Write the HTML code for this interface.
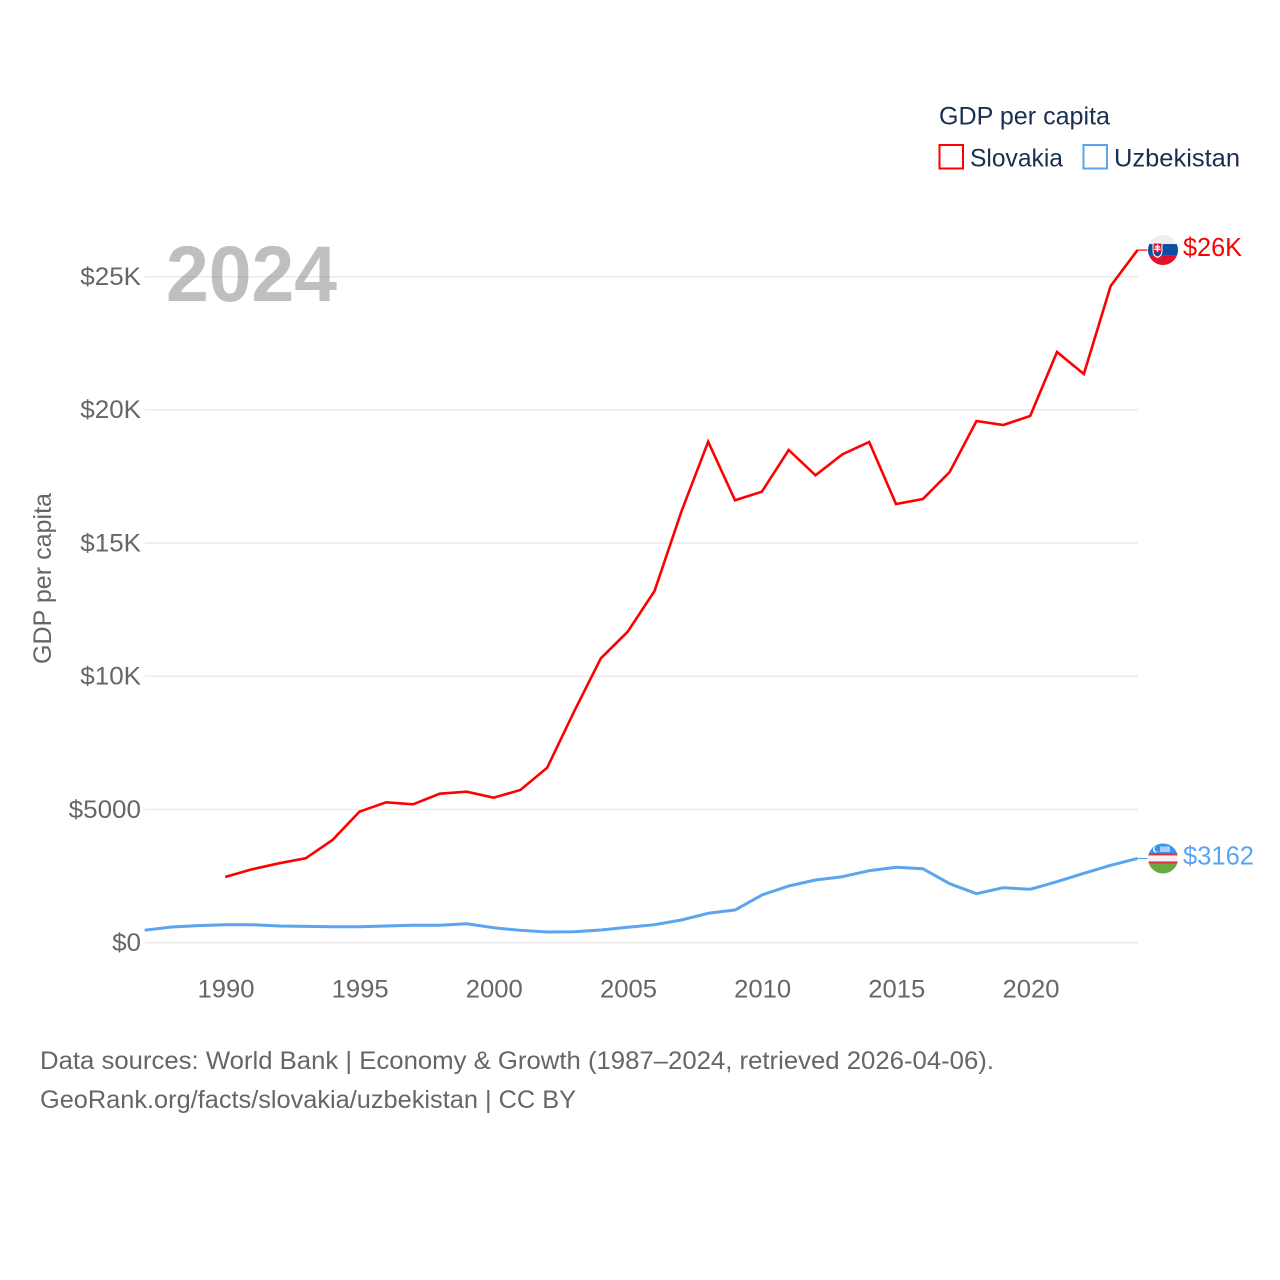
<!DOCTYPE html>
<html lang="en">
<head>
<meta charset="utf-8">
<title>GDP per capita: Slovakia vs Uzbekistan</title>
<style>
html,body{margin:0;padding:0;background:#fff;}
svg{display:block;}
text{font-family:"Liberation Sans",sans-serif;}
</style>
</head>
<body>
<svg id="chart" xmlns="http://www.w3.org/2000/svg" width="1280" height="1280" viewBox="0 0 1280 1280">
  <defs>
    <clipPath id="clip-flag"><circle cx="0" cy="0" r="15"/></clipPath>
  </defs>
  <g id="grid"></g>
  <g id="y-ticks"></g>
  <g id="x-ticks"></g>
  <g id="series"></g>

  <text x="166" y="301" font-size="79" font-weight="700" fill="#808080" fill-opacity="0.5" textLength="171" lengthAdjust="spacingAndGlyphs">2024</text>

  <text transform="translate(51,664) rotate(-90)" font-size="25" fill="#666666" textLength="171" lengthAdjust="spacingAndGlyphs">GDP per capita</text>

  <g>
    <text x="939" y="124.5" font-size="25" fill="#1a2f4f" textLength="171" lengthAdjust="spacingAndGlyphs">GDP per capita</text>
    <rect x="939.5" y="145" width="23.5" height="23.5" fill="none" stroke="#ff0000" stroke-width="2"/>
    <text x="970" y="166.5" font-size="25" fill="#1a2f4f" textLength="93" lengthAdjust="spacingAndGlyphs">Slovakia</text>
    <rect x="1083.5" y="145" width="23.5" height="23.5" fill="none" stroke="#5ba4ee" stroke-width="2"/>
    <text x="1114" y="166.5" font-size="25" fill="#1a2f4f" textLength="126" lengthAdjust="spacingAndGlyphs">Uzbekistan</text>
  </g>

  <g id="flag-slovakia">
    <g clip-path="url(#clip-flag)">
      <rect x="-15" y="-15" width="30" height="30" fill="#eeeeee"/>
      <rect x="-15" y="-6" width="30" height="11" fill="#0b4ea2"/>
      <rect x="-15" y="5" width="30" height="10" fill="#e2102a"/>
      <path d="M-10.5,-7.5 H-0.5 V1 Q-0.5,6 -5.5,8 Q-10.5,6 -10.5,1 Z" fill="#ffffff"/>
      <path d="M-9.5,-6.5 H-1.5 V1 Q-1.5,5 -5.5,6.6 Q-9.5,5 -9.5,1 Z" fill="#e2102a"/>
      <path d="M-6.2,-5.5 h1.4 v1.6 h2 v1.3 h-2 v1.2 h2.4 v1.3 h-2.4 v2.5 h-1.4 v-2.5 h-2.4 v-1.3 h2.4 v-1.2 h-2 v-1.3 h2 Z" fill="#ffffff"/>
      <path d="M-9.1,3 Q-5.5,0.5 -1.9,3 Q-2.5,5 -5.5,6.4 Q-8.5,5 -9.1,3 Z" fill="#0b4ea2"/>
    </g>
  </g>

  <g id="flag-uzbekistan">
    <g clip-path="url(#clip-flag)">
      <rect x="-15" y="-15" width="30" height="10.5" fill="#3a93ea"/>
      <rect x="-15" y="-5" width="30" height="2" fill="#d8324a"/>
      <rect x="-15" y="-3" width="30" height="6.5" fill="#f6f2f2"/>
      <rect x="-15" y="3" width="30" height="2" fill="#d8324a"/>
      <rect x="-15" y="5" width="30" height="10" fill="#6aa842"/>
      <circle cx="-7" cy="-9" r="3" fill="#ffffff"/>
      <circle cx="-5.8" cy="-9.4" r="2.7" fill="#3a93ea"/>
      <rect x="-3" y="-12" width="10" height="5.5" fill="#a9cff5"/>
    </g>
  </g>

  <text id="end-label-slovakia" x="1183" font-size="25.5" fill="#ff0000" textLength="59" lengthAdjust="spacingAndGlyphs"></text>
  <text id="end-label-uzbekistan" x="1183" font-size="25.5" fill="#5ba4ee" textLength="71" lengthAdjust="spacingAndGlyphs"></text>

  <g>
    <text x="40" y="1069" font-size="25" fill="#666666" textLength="954" lengthAdjust="spacingAndGlyphs">Data sources: World Bank | Economy &amp; Growth (1987–2024, retrieved 2026-04-06).</text>
    <text x="40" y="1108" font-size="25" fill="#666666" textLength="536" lengthAdjust="spacingAndGlyphs">GeoRank.org/facts/slovakia/uzbekistan | CC BY</text>
  </g>
</svg>

<script>
const years = [1987,1988,1989,1990,1991,1992,1993,1994,1995,1996,1997,1998,1999,2000,2001,2002,2003,2004,2005,2006,2007,2008,2009,2010,2011,2012,2013,2014,2015,2016,2017,2018,2019,2020,2021,2022,2023,2024];
const slovakia = [null,null,null,2466,2755,2980,3168,3855,4917,5270,5195,5593,5668,5443,5732,6569,8671,10675,11674,13202,16179,18806,16607,16929,18495,17545,18333,18795,16468,16655,17669,19583,19433,19771,22174,21348,24650,26000];
const uzbekistan = [470,590,640,676,676,627,615,600,600,627,653,653,713,563,465,402,413,477,578,676,852,1104,1227,1790,2128,2354,2477,2703,2830,2778,2215,1839,2065,2005,2290,2605,2905,3162];
const yTickValues = [0,5000,10000,15000,20000,25000];
const yTickLabels = ['$0','$5000','$10K','$15K','$20K','$25K'];
const xTickValues = [1990,1995,2000,2005,2010,2015,2020];
const xTickLabels = ['1990','1995','2000','2005','2010','2015','2020'];
const endLabels = ['$26K','$3162'];

const SVG_NS = 'http://www.w3.org/2000/svg';
const xScale = function (year) { return 144.7 + (year - 1987) * (1137.5 - 144.7) / 37; };
const yScale = function (value) { return 942.7 - value * (942.7 - 276.7) / 25000; };

const gridGroup = document.getElementById('grid');
const yTickGroup = document.getElementById('y-ticks');
const xTickGroup = document.getElementById('x-ticks');
const seriesGroup = document.getElementById('series');

yTickValues.forEach(function (value, i) {
  const line = document.createElementNS(SVG_NS, 'line');
  line.setAttribute('x1', 145);
  line.setAttribute('x2', 1138);
  line.setAttribute('y1', yScale(value));
  line.setAttribute('y2', yScale(value));
  line.setAttribute('stroke', '#ebebeb');
  line.setAttribute('stroke-width', '1.5');
  
  
  gridGroup.appendChild(line);

  const label = document.createElementNS(SVG_NS, 'text');
  label.textContent = yTickLabels[i];
  label.setAttribute('x', 141);
  label.setAttribute('y', yScale(value) + 8.3);
  label.setAttribute('text-anchor', 'end');
  label.setAttribute('font-size', '25');
  label.setAttribute('fill', '#666666');
  
  
  yTickGroup.appendChild(label);
  const natural = label.getComputedTextLength();
  label.setAttribute('textLength', (natural * 1.04).toFixed(1));
  label.setAttribute('lengthAdjust', 'spacingAndGlyphs');
});

xTickValues.forEach(function (year, i) {
  const label = document.createElementNS(SVG_NS, 'text');
  label.textContent = xTickLabels[i];
  label.setAttribute('x', xScale(year) + 0.8);
  label.setAttribute('y', 997.5);
  label.setAttribute('text-anchor', 'middle');
  label.setAttribute('font-size', '25');
  label.setAttribute('fill', '#666666');
  label.setAttribute('textLength', '57');
  label.setAttribute('lengthAdjust', 'spacingAndGlyphs');
  
  
  xTickGroup.appendChild(label);
});

function buildPath(values) {
  let d = '';
  values.forEach(function (value, i) {
    if (value === null) return;
    d += (d === '' ? 'M' : 'L') + xScale(years[i]).toFixed(2) + ',' + yScale(value).toFixed(2);
  });
  return d;
}

const slovakiaLine = document.createElementNS(SVG_NS, 'path');
slovakiaLine.setAttribute('d', buildPath(slovakia));
slovakiaLine.setAttribute('fill', 'none');
slovakiaLine.setAttribute('stroke', '#ff0000');
slovakiaLine.setAttribute('stroke-width', '2.6');
slovakiaLine.setAttribute('stroke-linejoin', 'miter');


seriesGroup.appendChild(slovakiaLine);

const uzbekistanLine = document.createElementNS(SVG_NS, 'path');
uzbekistanLine.setAttribute('d', buildPath(uzbekistan));
uzbekistanLine.setAttribute('fill', 'none');
uzbekistanLine.setAttribute('stroke', '#5ba4ee');
uzbekistanLine.setAttribute('stroke-width', '3');
uzbekistanLine.setAttribute('stroke-linejoin', 'round');


seriesGroup.appendChild(uzbekistanLine);

const lastSlovakiaY = yScale(slovakia[slovakia.length - 1]);
const lastUzbekistanY = yScale(uzbekistan[uzbekistan.length - 1]);
const lastX = xScale(years[years.length - 1]);

const slovakiaConnector = document.createElementNS(SVG_NS, 'line');
slovakiaConnector.setAttribute('x1', lastX);
slovakiaConnector.setAttribute('x2', lastX + 10);
slovakiaConnector.setAttribute('y1', lastSlovakiaY);
slovakiaConnector.setAttribute('y2', lastSlovakiaY);
slovakiaConnector.setAttribute('stroke', '#ff0000');
slovakiaConnector.setAttribute('stroke-width', '1.2');


seriesGroup.appendChild(slovakiaConnector);

const uzbekistanConnector = document.createElementNS(SVG_NS, 'line');
uzbekistanConnector.setAttribute('x1', lastX);
uzbekistanConnector.setAttribute('x2', lastX + 10);
uzbekistanConnector.setAttribute('y1', lastUzbekistanY);
uzbekistanConnector.setAttribute('y2', lastUzbekistanY);
uzbekistanConnector.setAttribute('stroke', '#5ba4ee');
uzbekistanConnector.setAttribute('stroke-width', '1.2');


seriesGroup.appendChild(uzbekistanConnector);

document.getElementById('flag-slovakia').setAttribute('transform', 'translate(1163,' + lastSlovakiaY + ')');
document.getElementById('flag-uzbekistan').setAttribute('transform', 'translate(1163,' + lastUzbekistanY + ')');

const slovakiaEnd = document.getElementById('end-label-slovakia');
slovakiaEnd.textContent = endLabels[0];
slovakiaEnd.setAttribute('y', lastSlovakiaY + 6);
const uzbekistanEnd = document.getElementById('end-label-uzbekistan');
uzbekistanEnd.textContent = endLabels[1];
uzbekistanEnd.setAttribute('y', lastUzbekistanY + 6);
</script>
</body>
</html>
